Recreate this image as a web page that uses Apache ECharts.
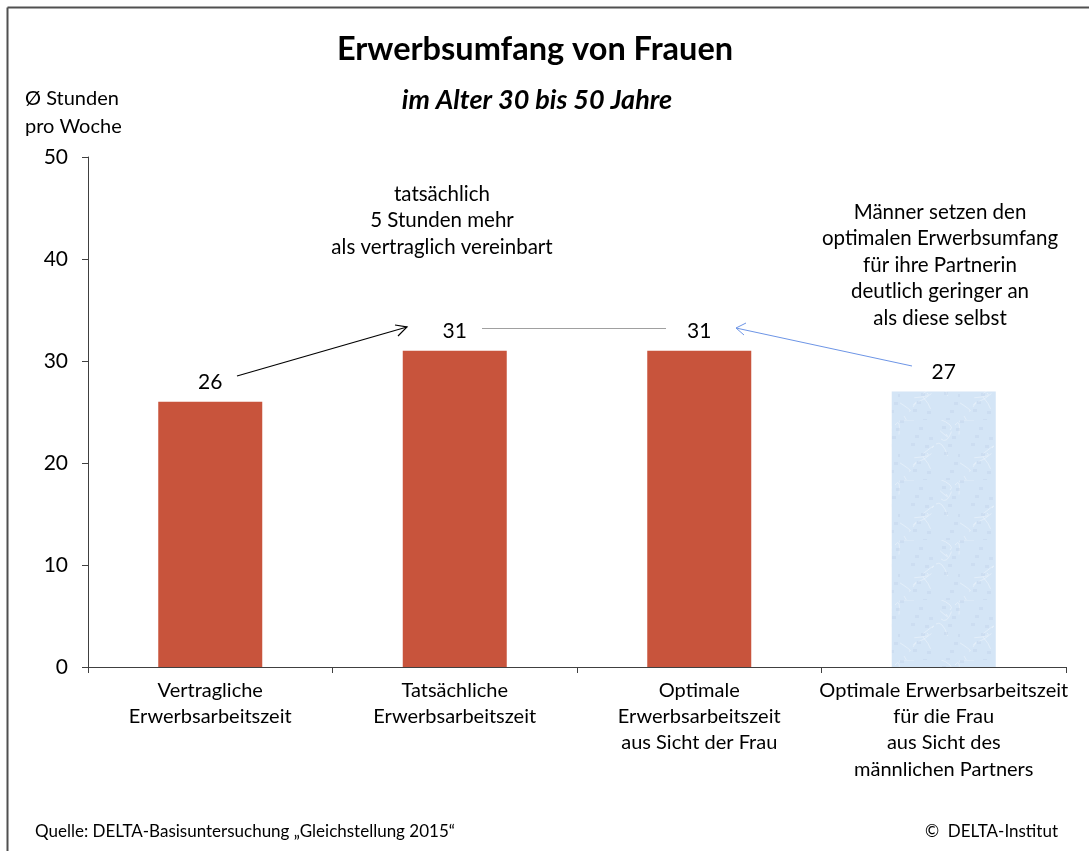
<!DOCTYPE html>
<html>
<head>
<meta charset="utf-8">
<script src="https://cdn.jsdelivr.net/npm/echarts@6/dist/echarts.min.js"></script>
<style>
    html, body { margin: 0; padding: 0; background: #fff; }
    #chart { width: 1089px; height: 851px; }
</style>
</head>
<body>
<div id="chart"></div>
<script>
let categories = [
    'Vertragliche\nErwerbsarbeitszeit',
    'Tatsächliche\nErwerbsarbeitszeit',
    'Optimale\nErwerbsarbeitszeit\naus Sicht der Frau',
    'Optimale Erwerbsarbeitszeit\nfür die Frau\naus Sicht des\nmännlichen Partners'
];
let stunden = [26, 31, 31, 27];
let yTicks = [0, 10, 20, 30, 40, 50];

let font = 'Lato, "Open Sans", sans-serif';

// light blue paper-like texture for the partner bar
function makeTexture() {
    let c = document.createElement('canvas');
    c.width = 60;
    c.height = 60;
    let ctx = c.getContext('2d');
    ctx.fillStyle = '#d4e5f6';
    ctx.fillRect(0, 0, 60, 60);
    ctx.strokeStyle = 'rgba(255,255,255,0.35)';
    ctx.lineWidth = 1;
    for (let i = 0; i < 14; i++) {
        let x = (i * 23) % 60;
        let y = (i * 37) % 60;
        ctx.beginPath();
        ctx.moveTo(x, y);
        ctx.quadraticCurveTo(x + 6, y + 8 * Math.sin(i), x + 14 * Math.cos(i), y + 12 * Math.sin(i * 1.7));
        ctx.stroke();
    }
    ctx.fillStyle = 'rgba(180,200,228,0.25)';
    for (let i = 0; i < 20; i++) {
        ctx.fillRect((i * 29) % 60, (i * 17) % 60, 4, 3);
    }
    return c;
}

let chart = echarts.init(document.getElementById('chart'));

let barData = stunden.map((v, i) => {
    if (i === 3) {
        return { value: v, itemStyle: { color: { image: makeTexture(), repeat: 'repeat' } } };
    }
    return v;
});

let noteStyle = { fontFamily: font, fontSize: 20.5, fill: '#000', lineHeight: 26.5, align: 'center', verticalAlign: 'top' };

let option = {
    animation: false,
    backgroundColor: '#fff',
    title: [
        {
            text: 'Erwerbsumfang von Frauen',
            left: 530, top: 28, textAlign: 'center',
            textStyle: { fontFamily: font, fontSize: 32.5, fontWeight: 'bold', color: '#000' }
        },
        {
            text: 'im Alter 30 bis 50 Jahre',
            left: 532, top: 82, textAlign: 'center',
            textStyle: { fontFamily: font, fontSize: 27, fontWeight: 'bold', fontStyle: 'italic', color: '#000' }
        },
        {
            text: 'Ø Stunden\npro Woche',
            left: 20, top: 80,
            textStyle: { fontFamily: font, fontSize: 20, fontWeight: 'normal', color: '#000', lineHeight: 28 }
        }
    ],
    grid: { left: 88, right: 23, top: 157, bottom: 184, containLabel: false },
    xAxis: {
        type: 'category',
        data: categories,
        axisLine: { lineStyle: { color: '#404040', width: 1 } },
        axisTick: { show: true, length: 6, lineStyle: { color: '#404040' } },
        axisLabel: {
            interval: 0, margin: 10,
            fontFamily: font, fontSize: 20, color: '#000', lineHeight: 26.3, align: 'center'
        }
    },
    yAxis: {
        type: 'value',
        min: 0, max: 50, interval: 10,
        splitLine: { show: false },
        axisLine: { show: true, lineStyle: { color: '#404040', width: 1 } },
        axisTick: { show: true, length: 6, lineStyle: { color: '#404040' } },
        axisLabel: {
            margin: 20, fontFamily: font, fontSize: 21, color: '#000',
            formatter: v => yTicks.includes(v) ? String(v) : ''
        }
    },
    series: [
        {
            type: 'bar',
            data: barData,
            barWidth: 104,
            itemStyle: { color: '#c8543c' },
            label: {
                show: true, position: 'top', distance: 9,
                fontFamily: font, fontSize: 21, color: '#000'
            }
        }
    ],
    graphic: [
        // page frame
        { type: 'line', shape: { x1: 7.5, y1: 7.5, x2: 1089, y2: 7.5 }, style: { stroke: '#505050', lineWidth: 2 } },
        { type: 'line', shape: { x1: 7.5, y1: 7.5, x2: 7.5, y2: 851 }, style: { stroke: '#505050', lineWidth: 2 } },
        // annotations
        {
            type: 'text', x: 442, y: 181,
            style: Object.assign({}, noteStyle, {
                text: 'tatsächlich\n5 Stunden mehr\nals vertraglich vereinbart'
            })
        },
        {
            type: 'text', x: 940, y: 199,
            style: Object.assign({}, noteStyle, {
                text: 'Männer setzen den\noptimalen Erwerbsumfang\nfür ihre Partnerin\ndeutlich geringer an\nals diese selbst'
            })
        },
        // arrow vertraglich -> tatsächlich
        { type: 'line', shape: { x1: 237, y1: 376, x2: 407, y2: 327 }, style: { stroke: '#000', lineWidth: 1.2 } },
        { type: 'polyline', shape: { points: [[395, 325], [407, 327], [398, 336]] }, style: { stroke: '#000', lineWidth: 1.2, fill: null } },
        // connector tatsächlich -- optimal
        { type: 'line', shape: { x1: 482, y1: 328.5, x2: 666, y2: 328.5 }, style: { stroke: '#a0a0a0', lineWidth: 1 } },
        // arrow partner -> optimal
        { type: 'line', shape: { x1: 912, y1: 366, x2: 736, y2: 328 }, style: { stroke: '#6d95e6', lineWidth: 1 } },
        { type: 'polyline', shape: { points: [[746, 323], [736, 328], [744, 335]] }, style: { stroke: '#6d95e6', lineWidth: 1, fill: null } },
        // footer
        {
            type: 'text', left: 35, top: 823,
            style: { text: 'Quelle: DELTA-Basisuntersuchung „Gleichstellung 2015“', fontFamily: font, fontSize: 17, fill: '#000' }
        },
        {
            type: 'text', right: 31, top: 823,
            style: { text: '©  DELTA-Institut', fontFamily: font, fontSize: 17, fill: '#000' }
        }
    ]
};

chart.setOption(option);
</script>
</body>
</html>
